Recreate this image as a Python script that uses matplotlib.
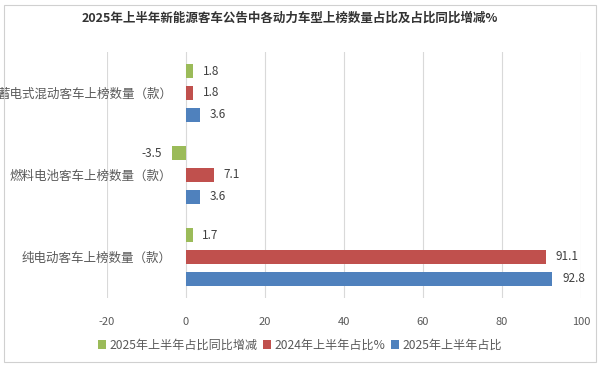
import matplotlib
matplotlib.use("Agg")
import matplotlib.pyplot as plt
import numpy as np
from matplotlib.patches import Rectangle

plt.rcParams["font.family"] = ["Noto Sans CJK SC", "DejaVu Sans"]
plt.rcParams["axes.unicode_minus"] = False

# 数据（从下到上）
categories = ["纯电动客车上榜数量（款）", "燃料电池客车上榜数量（款）", "蓄电式混动客车上榜数量（款）"]
share_2025 = [92.8, 3.6, 3.6]
share_2024 = [91.1, 7.1, 1.8]
share_yoy = [1.7, -3.5, 1.8]
series_names = ["2025年上半年占比同比增减", "2024年上半年占比%", "2025年上半年占比"]
xticks = [-20, 0, 20, 40, 60, 80, 100]

C_GREEN = "#9bbb59"
C_RED = "#c0504d"
C_BLUE = "#4f81bd"
TXT = "#595959"

fig = plt.figure(figsize=(6.0, 3.71), dpi=100)
fig.add_artist(Rectangle((0.006, 0.024), 0.988, 0.962, transform=fig.transFigure,
                         fill=False, edgecolor="#d0d0d0", linewidth=0.8))
ax = fig.add_axes([0.178, 0.197, 0.79, 0.663])

y = np.arange(len(categories))
step = 0.265
h = 0.17
series = [(share_yoy, C_GREEN, step), (share_2024, C_RED, 0.0), (share_2025, C_BLUE, -step)]
for (vals, color, off), name in zip(series, series_names):
    bars = ax.barh(y + off, vals, height=h, color=color, label=name, zorder=3)
    for b, v in zip(bars, vals):
        if v >= 0:
            ax.text(v + 2.5, b.get_y() + h / 2, f"{v:.1f}", ha="left", va="center",
                    fontsize=8.5, color="#404040")
        else:
            ax.text(v - 2.5, b.get_y() + h / 2, f"{v:.1f}", ha="right", va="center",
                    fontsize=8.5, color="#404040")

ax.set_xlim(-20, 100)
ax.set_ylim(-0.5, len(categories) - 0.5)
ax.set_xticks(xticks)
ax.set_xticklabels([str(t) for t in xticks])
ax.set_yticks(y)
ax.set_yticklabels(categories)
# 类别轴放在 0 处（Excel 风格）
ax.spines["left"].set_position(("data", 0))
ax.tick_params(axis="both", length=0, colors=TXT, labelsize=8)
ax.tick_params(axis="x", pad=14)
ax.tick_params(axis="y", pad=10, labelsize=9)
ax.grid(axis="x", color="#d9d9d9", linewidth=0.8, zorder=0)
for s in ax.spines.values():
    s.set_visible(False)

fig.text(0.483, 0.951, "2025年上半年新能源客车公告中各动力车型上榜数量占比及占比同比增减%",
         ha="center", va="center", fontsize=9, fontweight="bold", color="#333333")

ax.legend(loc="center", bbox_to_anchor=(0.5, 0.07), bbox_transform=fig.transFigure,
          ncol=3, frameon=False, fontsize=8.7, handlelength=0.7, handleheight=0.7,
          handletextpad=0.3, columnspacing=0.4, labelcolor=TXT)

fig.savefig("out.png", dpi=100)
